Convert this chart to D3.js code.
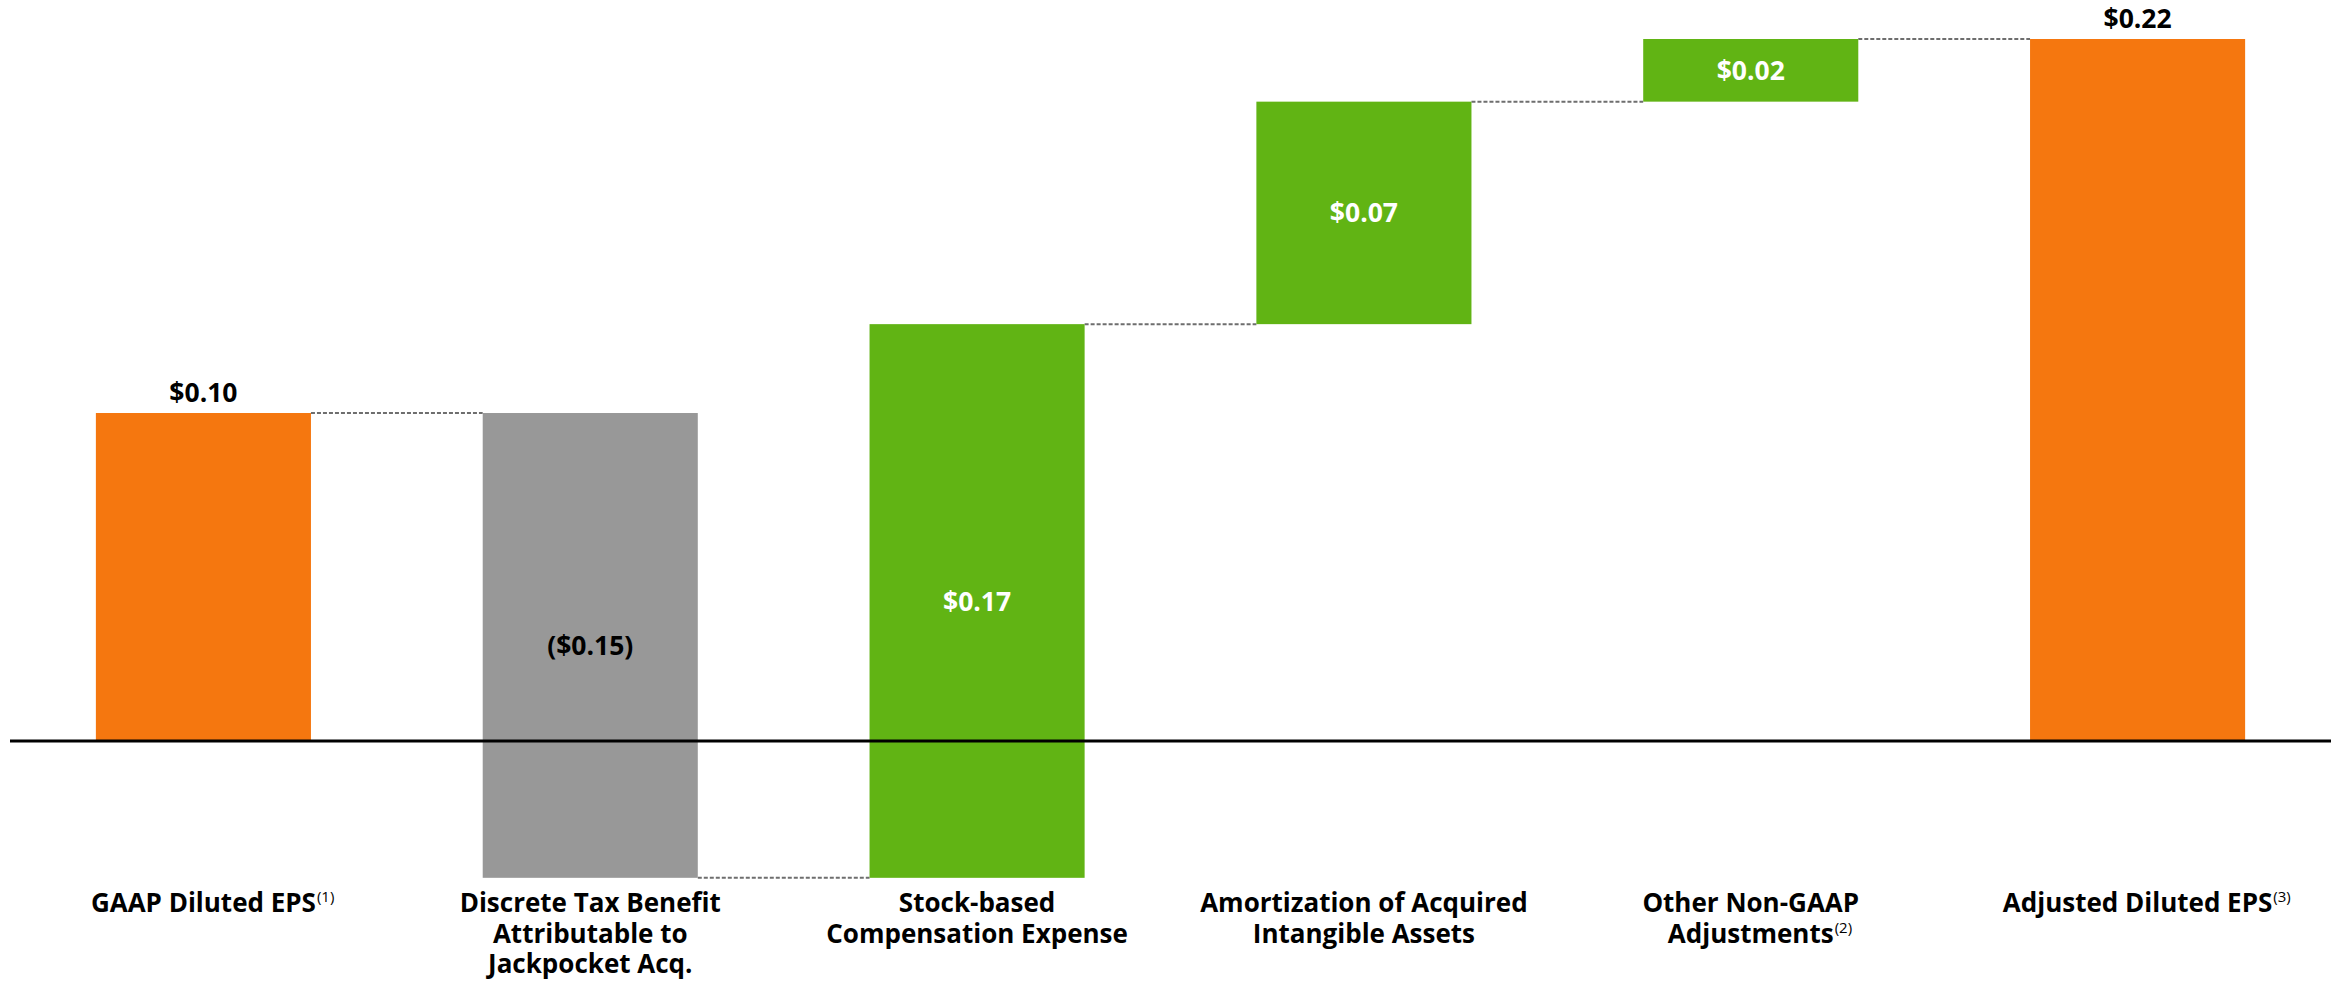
<!DOCTYPE html>
<html>
<head>
<meta charset="utf-8">
<script src="https://cdn.jsdelivr.net/npm/d3@7"></script>
<style>
  html, body { margin: 0; padding: 0; background: #fff; }
  svg text { font-family: "Open Sans", "Noto Sans", sans-serif; }
</style>
</head>
<body>
<div id="chart"></div>
<script>
// categories, each split into the lines shown under the axis
const categories = ['GAAP', 'Tax', 'SBC', 'Amort', 'Other', 'Adjusted'];
const labelLines = [
  ['GAAP Diluted EPS'],
  ['Discrete Tax Benefit', 'Attributable to', 'Jackpocket Acq.'],
  ['Stock-based', 'Compensation Expense'],
  ['Amortization of Acquired', 'Intangible Assets'],
  ['Other Non-GAAP', 'Adjustments'],
  ['Adjusted Diluted EPS']
];
const footnotes = ['(1)', '', '', '', '(2)', '(3)'];

// bar values (labels are the rounded figures)
const values = [0.1026, -0.1454, 0.1732, 0.0696, 0.0196, 0.2196];
const kinds = ['total', 'decrease', 'increase', 'increase', 'increase', 'total'];
const valueLabels = ['$0.10', '($0.15)', '$0.17', '$0.07', '$0.02', '$0.22'];

const colors = { total: '#F5770F', decrease: '#989898', increase: '#61B414' };

const width = 2341, height = 981;
const baseY = 741;

const svg = d3.select('#chart').append('svg')
  .attr('width', width)
  .attr('height', height);

const x = d3.scaleBand()
  .domain(categories)
  .range([10, 2331])
  .paddingInner(0.444)
  .paddingOuter(0.222);

const y = d3.scaleLinear()
  .domain([0, 0.2196])
  .range([baseY, 39]);

// running totals for the waterfall
let run = 0;
const bars = values.map((v, i) => {
  let start, end;
  if (kinds[i] === 'total') { start = 0; end = v; run = v; }
  else { start = run; end = run + v; run = end; }
  return { key: categories[i], start, end, kind: kinds[i], label: valueLabels[i], i };
});

// dashed connectors between bars
for (let i = 0; i < bars.length - 1; i++) {
  svg.append('line')
    .attr('x1', x(bars[i].key) + x.bandwidth())
    .attr('x2', x(bars[i + 1].key))
    .attr('y1', y(bars[i].end))
    .attr('y2', y(bars[i].end))
    .attr('stroke', '#6e6e6e')
    .attr('stroke-width', 2)
    .attr('stroke-dasharray', '4,2');
}

svg.selectAll('rect.bar')
  .data(bars)
  .enter().append('rect')
  .attr('class', 'bar')
  .attr('x', d => x(d.key))
  .attr('width', x.bandwidth())
  .attr('y', d => y(Math.max(d.start, d.end)))
  .attr('height', d => Math.abs(y(d.start) - y(d.end)))
  .attr('fill', d => colors[d.kind]);

// zero line (drawn over the bars like in the reference)
svg.append('line')
  .attr('x1', 10).attr('x2', 2331)
  .attr('y1', baseY).attr('y2', baseY)
  .attr('stroke', '#000')
  .attr('stroke-width', 3);

// value labels: totals above the bar, steps inside
svg.selectAll('text.val')
  .data(bars)
  .enter().append('text')
  .attr('class', 'val')
  .attr('x', d => x(d.key) + x.bandwidth() / 2)
  .attr('y', d => d.kind === 'total'
    ? y(d.end) - 11
    : (y(d.start) + y(d.end)) / 2)
  .attr('dy', d => d.kind === 'total' ? 0 : '0.36em')
  .attr('text-anchor', 'middle')
  .style('font-size', '26.5px')
  .style('font-weight', 700)
  .attr('fill', d => d.kind === 'increase' ? '#fff' : '#000')
  .text(d => d.label);

// category labels under the axis, one text per category with a tspan per line
bars.forEach(d => {
  const cx = x(d.key) + x.bandwidth() / 2;
  const lines = labelLines[d.i];
  const t = svg.append('text')
    .attr('class', 'cat')
    .attr('text-anchor', 'middle')
    .style('font-size', '26px')
    .style('font-weight', 700)
    .attr('fill', '#000');
  lines.forEach((line, j) => {
    t.append('tspan')
      .attr('x', cx)
      .attr('y', 912 + j * 30.5)
      .text(line);
  });
  if (footnotes[d.i]) {
    const last = t.selectAll('tspan').nodes()[lines.length - 1];
    const w = last.getComputedTextLength();
    svg.append('text')
      .attr('x', cx + w / 2 + 1)
      .attr('y', 912 + (lines.length - 1) * 30.5 - 10)
      .style('font-size', '15px')
      .style('font-weight', 400)
      .attr('fill', '#000')
      .text(footnotes[d.i]);
  }
});
</script>
</body>
</html>
